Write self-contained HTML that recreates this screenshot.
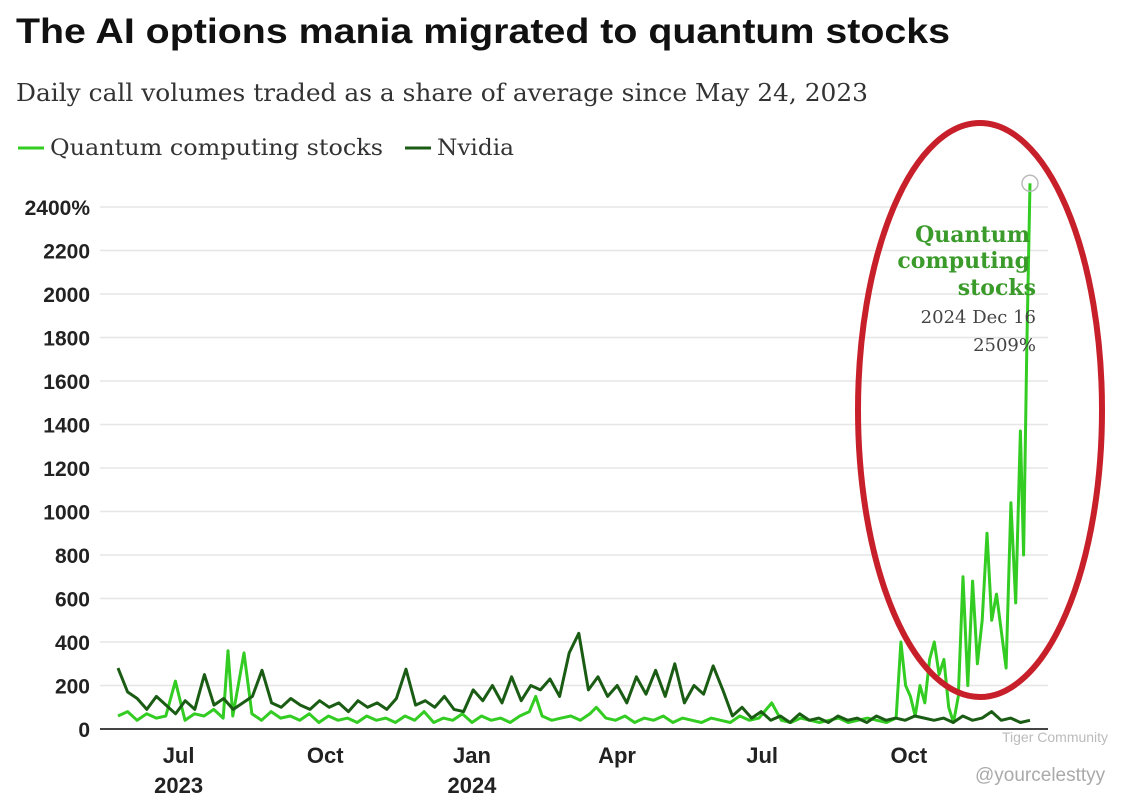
<!DOCTYPE html>
<html><head><meta charset="utf-8"><style>
body{margin:0;width:1139px;height:799px;background:#fff;overflow:hidden;font-family:"Liberation Sans",sans-serif}
</style></head><body>
<svg id="c" width="1139" height="799" xmlns="http://www.w3.org/2000/svg">
<text x="16" y="43" font-size="35" font-weight="bold" fill="#111" textLength="934" lengthAdjust="spacingAndGlyphs">The AI options mania migrated to quantum stocks</text>
<text x="16" y="101" font-size="24" font-family="DejaVu Serif,serif" fill="#333" textLength="852" lengthAdjust="spacingAndGlyphs">Daily call volumes traded as a share of average since May 24, 2023</text>
<g>
<line x1="18" y1="148" x2="44" y2="148" stroke="#33cc22" stroke-width="3"/>
<text x="50" y="155" font-size="22" font-family="DejaVu Serif,serif" fill="#333" textLength="333" lengthAdjust="spacingAndGlyphs">Quantum computing stocks</text>
<line x1="405" y1="148" x2="431" y2="148" stroke="#1a5c14" stroke-width="3"/>
<text x="437" y="155" font-size="22" font-family="DejaVu Serif,serif" fill="#333" textLength="77" lengthAdjust="spacingAndGlyphs">Nvidia</text>
</g>
<g id="grid"></g><g id="ylab"></g><g id="xlab"></g><g id="series"></g>
<g font-family="DejaVu Serif,serif" text-anchor="end">
<text x="1030" y="242" font-size="22" font-weight="bold" fill="#3a9a2a">Quantum</text>
<text x="1030" y="268" font-size="22" font-weight="bold" fill="#3a9a2a">computing</text>
<text x="1036" y="295" font-size="22" font-weight="bold" fill="#3a9a2a">stocks</text>
<text x="1036" y="323" font-size="18" fill="#444">2024 Dec 16</text>
<text x="1036" y="351" font-size="18" fill="#444">2509%</text>
</g>
<ellipse cx="980" cy="410" rx="122" ry="287" fill="none" stroke="#c8202a" stroke-width="6"/>
<text x="1002" y="742" font-size="14" fill="#bbb">Tiger Community</text>
<text x="975" y="781" font-size="19" fill="#aaa">@yourcelesttyy</text>
</svg>
<script>
const yTicks=[0,200,400,600,800,1000,1200,1400,1600,1800,2000,2200,2400];
const xTickLabels=["Jul","Oct","Jan","Apr","Jul","Oct"];
const xTickYears=["2023","","2024","","",""];
const xTickDays=[38,130,222,313,404,496];
const nvidiaValues=[280,170,140,90,150,110,70,130,90,250,110,140,90,120,150,270,120,100,140,110,90,130,100,120,80,130,100,120,90,140,275,110,130,100,150,90,80,180,130,200,120,240,130,200,180,230,150,350,440,180,240,150,200,120,240,160,270,150,300,120,200,160,290,180,60,100,50,80,40,60,30,70,40,50,30,60,40,50,30,60,40,50,40,60,50,40,50,30,60,40,50,80,40,50,30,40];
const quantumDays=[0,6,12,18,24,30,36,42,48,54,60,66,69,72,79,84,90,96,102,108,114,120,126,132,138,144,150,156,162,168,174,180,186,192,198,204,210,216,222,228,234,240,246,252,258,262,266,272,278,284,290,296,300,306,312,318,324,330,336,342,348,354,360,366,372,378,384,390,396,402,410,416,422,428,434,440,446,452,458,464,470,476,482,488,491,494,497,500,503,506,509,512,515,518,521,524,527,530,533,536,539,542,545,548,551,554,557,560,563,566,568,570,572];
const quantumValues=[60,80,40,70,50,60,220,40,70,60,90,50,360,60,350,70,40,80,50,60,40,70,30,60,40,50,30,60,40,50,30,60,40,80,30,50,40,70,30,60,40,50,30,60,80,150,60,40,50,60,40,70,100,50,40,60,30,50,40,60,30,50,40,30,50,40,30,60,40,50,120,40,30,50,40,30,40,50,30,40,50,40,30,50,400,200,150,60,200,120,320,400,250,320,100,30,150,700,200,680,300,500,900,500,620,450,280,1040,580,1370,800,1750,2509];
const X0=118,PXD=912/572,Y0=729,PY=(729-207)/2400;
const xs=d=>X0+d*PXD, ys=v=>Y0-v*PY;
const NS="http://www.w3.org/2000/svg";
function mk(t,a,p){const e=document.createElementNS(NS,t);for(const k in a)e.setAttribute(k,a[k]);p.appendChild(e);return e;}
const grid=document.getElementById('grid'),yl=document.getElementById('ylab'),xl=document.getElementById('xlab'),sg=document.getElementById('series');
yTicks.forEach((v,i)=>{
 const l=mk('line',{x1:100,x2:1048,y1:ys(v),y2:ys(v),stroke:v===0?'#444':'#e6e6e6','stroke-width':v===0?2:1.5},grid);
 
 
 const t=mk('text',{x:90,y:ys(v)+8,'font-size':21,'font-weight':'bold',fill:'#222','text-anchor':'end'},yl);
 t.textContent=v+(i===yTicks.length-1?'%':'');
 
 
});
xTickDays.forEach((d,i)=>{
 const t=mk('text',{x:xs(d),y:763,'font-size':22,'font-weight':'bold',fill:'#222','text-anchor':'middle'},xl);
 t.textContent=xTickLabels[i];
 
 
 if(xTickYears[i]){const y=mk('text',{x:xs(d),y:793,'font-size':22,'font-weight':'bold',fill:'#222','text-anchor':'middle'},xl);y.textContent=xTickYears[i];
 
 }
});
const qp=quantumDays.map((d,i)=>xs(d).toFixed(1)+','+ys(quantumValues[i]).toFixed(1)).join(' ');
const q=mk('polyline',{points:qp,fill:'none',stroke:'#33cc22','stroke-width':3,'stroke-linejoin':'round'},sg);


const np=nvidiaValues.map((v,i)=>xs(i*572/(nvidiaValues.length-1)).toFixed(1)+','+ys(v).toFixed(1)).join(' ');
const n=mk('polyline',{points:np,fill:'none',stroke:'#1a5c14','stroke-width':3,'stroke-linejoin':'round'},sg);


const last=quantumDays.length-1;
const c=mk('circle',{cx:xs(quantumDays[last]),cy:ys(quantumValues[last]),r:8,fill:'none',stroke:'#bbb','stroke-width':1.5},sg);


</script>
</body></html>
